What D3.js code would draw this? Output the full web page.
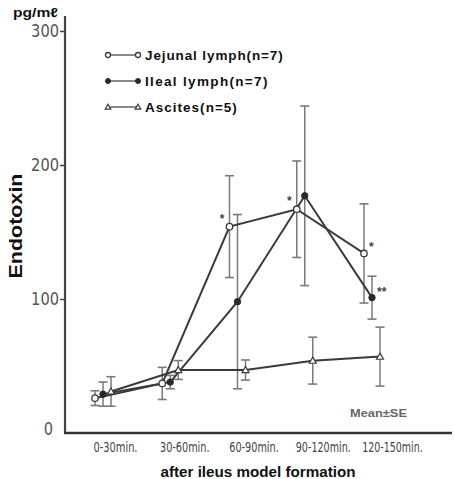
<!DOCTYPE html>
<html><head><meta charset="utf-8">
<script src="https://cdn.jsdelivr.net/npm/d3@7"></script>
<style>
html,body{margin:0;padding:0;background:#fff;}
svg{display:block;}
</style></head>
<body>
<svg id="chart" width="454" height="479"></svg>
<script>
const categories = ["0-30min.", "30-60min.", "60-90min.", "90-120min.", "120-150min."];
const jejunal   = [26, 37, 154, 167, 134];
const jejunalSE = [5.5, 12, 38, 36, 37];
const ileal     = [29, 38, 98, 177, 101];
const ilealSE   = [9, 5, 65, 67, 16];
const ascites   = [31, 47, 47, 54, 57];
const ascitesSE = [11, 7, 7.5, 17.5, 22];
const yTicks = [0, 100, 200, 300];
const seriesNames = ["Jejunal lymph(n=7)", "Ileal lymph(n=7)", "Ascites(n=5)"];
const marks = [
  {series: 0, index: 2, text: "*", side: "left"},
  {series: 0, index: 3, text: "*", side: "left"},
  {series: 0, index: 4, text: "*", side: "right"},
  {series: 1, index: 4, text: "**", side: "right"}
];

const svg = d3.select("#chart");
const lineColor = "#3a3a3a", errColor = "#7a7a7a";
const narrow = "'Liberation Sans Narrow','DejaVu Sans Condensed','Arial Narrow',sans-serif";
const sans = "'Liberation Sans', Arial, sans-serif";

const y = d3.scaleLinear().domain([0, 300]).range([433, 31]);
const x = d3.scalePoint().domain(categories).range([103, 372]);
const xLab = d3.scalePoint().domain(categories).range([115, 392]);

const series = [
  {name: seriesNames[0], vals: jejunal, se: jejunalSE, off: -8, marker: "openCircle"},
  {name: seriesNames[1], vals: ileal, se: ilealSE, off: 0, marker: "filledCircle"},
  {name: seriesNames[2], vals: ascites, se: ascitesSE, off: 8, marker: "triangle"}
];

// axes
svg.append("line").attr("x1", 65).attr("x2", 65).attr("y1", 16).attr("y2", y(0))
  .attr("stroke", "#444").attr("stroke-width", 2.2);
svg.append("line").attr("x1", 64).attr("x2", 452).attr("y1", y(0)).attr("y2", y(0))
  .attr("stroke", "#333").attr("stroke-width", 2.4);

const yAxis = svg.append("g").attr("transform", "translate(65,0)")
  .call(d3.axisLeft(y).tickValues(yTicks).tickSize(5).tickFormat(d3.format("d")));
yAxis.select(".domain").remove();
yAxis.selectAll(".tick line").attr("stroke", "#444").attr("stroke-width", 1.5)
  .filter(d => d === 0).remove();
yAxis.selectAll(".tick text").attr("font-family", narrow).attr("font-size", 18)
  .attr("fill", "#555").attr("x", -6)
  .attr("textLength", d => String(d).length * 9.3).attr("lengthAdjust", "spacingAndGlyphs");
yAxis.selectAll(".tick text").filter(d => d === 0).attr("x", -12).attr("dy", "0.1em");

const xAxis = svg.append("g").attr("transform", `translate(0,${y(0)})`)
  .call(d3.axisBottom(xLab).tickSize(0).tickPadding(9));
xAxis.select(".domain").remove();
xAxis.selectAll(".tick text").attr("font-family", narrow).attr("font-size", 14)
  .attr("fill", "#444")
  .attr("textLength", d => d.length * 5.5).attr("lengthAdjust", "spacingAndGlyphs");

svg.append("text").attr("x", 258).attr("y", 477).attr("text-anchor", "middle")
  .attr("font-family", sans).attr("font-weight", "bold")
  .attr("font-size", 14).attr("fill", "#111")
  .attr("textLength", 195).attr("lengthAdjust", "spacingAndGlyphs")
  .text("after  ileus model  formation");

svg.append("text").attr("transform", "translate(22,226) rotate(-90)").attr("text-anchor", "middle")
  .attr("font-family", sans).attr("font-weight", "bold")
  .attr("font-size", 18).attr("fill", "#111")
  .attr("textLength", 105).attr("lengthAdjust", "spacingAndGlyphs").text("Endotoxin");

svg.append("text").attr("x", 13).attr("y", 17)
  .attr("font-family", sans).attr("font-weight", "bold")
  .attr("font-size", 13).attr("fill", "#111")
  .attr("textLength", 45).attr("lengthAdjust", "spacingAndGlyphs").text("pg/mℓ");

svg.append("text").attr("x", 350).attr("y", 417)
  .attr("font-family", sans).attr("font-weight", "bold")
  .attr("font-size", 11).attr("fill", "#666")
  .attr("textLength", 57).attr("lengthAdjust", "spacingAndGlyphs").text("Mean±SE");

function drawMarker(g, type, cx, cy, r) {
  if (type === "openCircle") {
    g.append("circle").attr("cx", cx).attr("cy", cy).attr("r", r)
      .attr("fill", "#fff").attr("stroke", lineColor).attr("stroke-width", 1.3);
  } else if (type === "filledCircle") {
    g.append("circle").attr("cx", cx).attr("cy", cy).attr("r", r)
      .attr("fill", "#2a2a2a").attr("stroke", "#2a2a2a").attr("stroke-width", 1);
  } else {
    const s = r + 0.3;
    g.append("path").attr("d", `M${cx},${cy - s}L${cx + s},${cy + s * 0.75}L${cx - s},${cy + s * 0.75}Z`)
      .attr("fill", "#fff").attr("stroke", lineColor).attr("stroke-width", 1.2);
  }
}

// error bars
const plot = svg.append("g");
series.forEach(s => {
  const g = plot.append("g");
  s.vals.forEach((v, i) => {
    const cx = x(categories[i]) + s.off;
    const top = y(v + s.se[i]), bot = y(v - s.se[i]);
    g.append("line").attr("x1", cx).attr("x2", cx).attr("y1", top).attr("y2", bot)
      .attr("stroke", errColor).attr("stroke-width", 1.5);
    [top, bot].forEach(yy => g.append("line").attr("x1", cx - 4.5).attr("x2", cx + 4.5)
      .attr("y1", yy).attr("y2", yy).attr("stroke", errColor).attr("stroke-width", 1.6));
  });
});

// lines
const line = d3.line();
series.forEach(s => {
  const pts = s.vals.map((v, i) => [x(categories[i]) + s.off, y(v)]);
  plot.append("path").attr("d", line(pts)).attr("fill", "none")
    .attr("stroke", lineColor).attr("stroke-width", 2);
});
// markers
series.forEach(s => {
  const g = plot.append("g");
  s.vals.forEach((v, i) => drawMarker(g, s.marker, x(categories[i]) + s.off, y(v), 3.2));
});

// significance marks
marks.forEach(m => {
  const s = series[m.series];
  const cx = x(categories[m.index]) + s.off;
  const cy = y(s.vals[m.index]);
  const t = svg.append("text").attr("font-family", sans)
    .attr("font-size", 12).attr("font-weight", "bold").attr("fill", "#444").text(m.text);
  if (m.side === "left") t.attr("x", cx - 5).attr("y", cy - 4).attr("text-anchor", "end");
  else t.attr("x", cx + 5).attr("y", cy - 2).attr("text-anchor", "start");
});

// legend
const legendY = [55, 81, 107];
series.forEach((s, i) => {
  const g = svg.append("g");
  g.append("line").attr("x1", 108).attr("x2", 138).attr("y1", legendY[i]).attr("y2", legendY[i])
    .attr("stroke", lineColor).attr("stroke-width", 1.2);
  drawMarker(g, s.marker, 108, legendY[i], 2.5);
  drawMarker(g, s.marker, 138, legendY[i], 2.5);
  g.append("text").attr("x", 145).attr("y", legendY[i] + 5)
    .attr("font-family", sans).attr("font-weight", "bold")
    .attr("font-size", 13.5).attr("fill", "#111")
    .attr("textLength", s.name.length * 7.65).attr("lengthAdjust", "spacing")
    .text(s.name);
});
</script>
</body></html>
